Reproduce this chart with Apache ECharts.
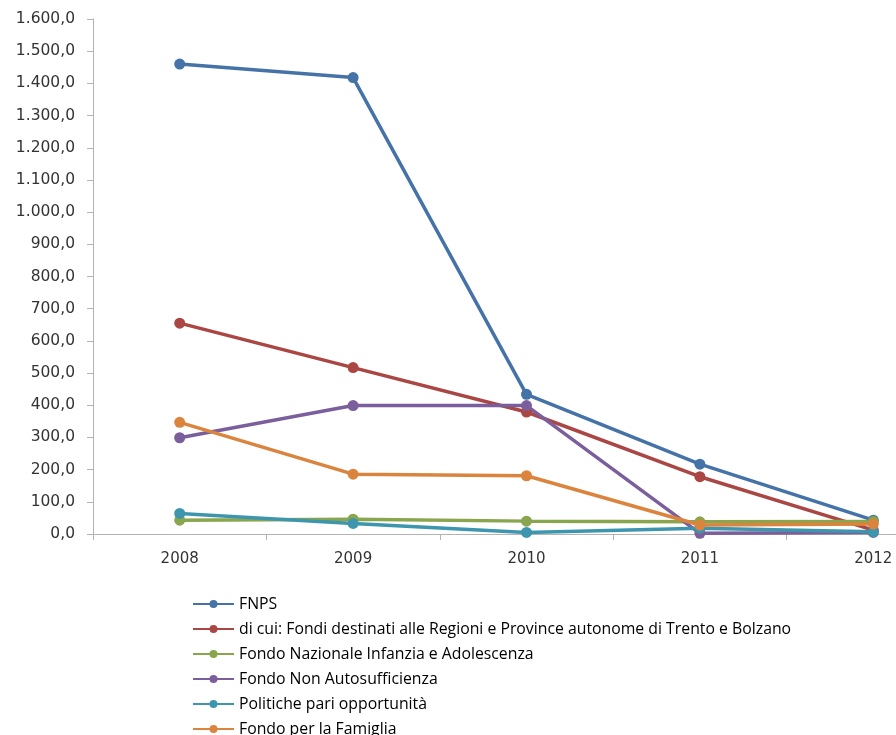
<!DOCTYPE html>
<html>
<head>
<meta charset="utf-8">
<script src="https://cdn.jsdelivr.net/npm/echarts@6/dist/echarts.min.js"></script>
<style>
  html, body { margin: 0; padding: 0; background: #fff; overflow: hidden; width: 896px; height: 735px; }
  #chart { width: 960px; height: 780px; }
</style>
</head>
<body>
<div id="chart"></div>
<script>
const years = ['2008', '2009', '2010', '2011', '2012']
const seriesNames = [
  'FNPS',
  'di cui: Fondi destinati alle Regioni e Province autonome di Trento e Bolzano',
  'Fondo Nazionale Infanzia e Adolescenza',
  'Fondo Non Autosufficienza',
  'Politiche pari opportunità',
  'Fondo per la Famiglia'
]
const fnps = [1460, 1418, 434, 217, 43]
const regioni = [655, 517, 379, 178, 12]
const infanzia = [43, 46, 40, 38, 39]
const nonAuto = [299, 399, 399, 2, 5]
const pariOpp = [64, 33, 5, 18, 7]
const famiglia = [347, 186, 181, 28, 31]
const colors = ['#4572A7', '#AA4643', '#89A54E', '#7B5E9C', '#3D96AE', '#DB843D']

// 1600 -> "1.600,0"
const formatIt = (v) => {
  const s = String(Math.round(v))
  return s.replace(/\B(?=(\d{3})+(?!\d))/g, '.') + ',0'
}

// the div is wider and taller than the window: the 2012 column and the
// last legend row are cut off like in the original picture
const chart = echarts.init(document.getElementById('chart'))
const allData = [fnps, regioni, infanzia, nonAuto, pariOpp, famiglia]

chart.setOption({
  animation: false,
  color: colors,
  textStyle: { fontFamily: '"DejaVu Sans", sans-serif' },
  grid: { left: 93, top: 19, bottom: 246, right: 0, containLabel: false },
  xAxis: {
    type: 'category',
    data: years,
    boundaryGap: true,
    axisLine: { lineStyle: { color: '#b3b3b3', width: 1 } },
    axisTick: { show: true, length: 6, lineStyle: { color: '#b3b3b3' } },
    axisLabel: { color: '#333', fontSize: 15, margin: 18 }
  },
  yAxis: {
    type: 'value',
    min: 0,
    max: 1600,
    interval: 100,
    splitLine: { show: false },
    axisLine: { show: true, lineStyle: { color: '#b3b3b3', width: 1 } },
    axisTick: { show: true, length: 6, lineStyle: { color: '#b3b3b3' } },
    axisLabel: { color: '#333', fontSize: 15.5, margin: 18, formatter: formatIt }
  },
  legend: {
    orient: 'vertical',
    left: 187,
    top: 591,
    itemWidth: 41,
    itemHeight: 10,
    itemGap: 9,
    textStyle: { fontSize: 15.8, color: '#000', fontFamily: '"Open Sans", sans-serif' },
    data: seriesNames
  },
  series: allData.map((d, i) => ({
    name: seriesNames[i],
    type: 'line',
    data: d,
    symbol: 'circle',
    symbolSize: 11,
    lineStyle: { width: 3.5 },
    itemStyle: { color: colors[i] }
  }))
})
</script>
</body>
</html>
